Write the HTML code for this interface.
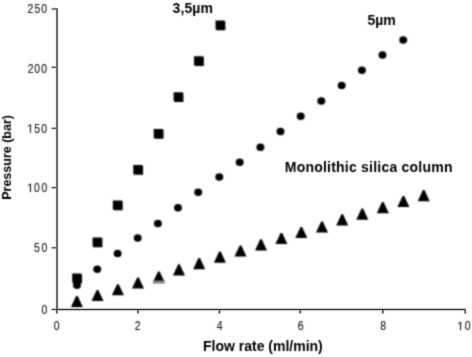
<!DOCTYPE html><html><head><meta charset="utf-8"><style>html,body{margin:0;padding:0;background:#fff;width:472px;height:357px;overflow:hidden}svg{display:block}#w{width:472px;height:357px;will-change:transform}text{font-family:"Liberation Sans",sans-serif}</style></head><body><div id="w">
<svg width="472" height="357" viewBox="0 0 472 357">
<defs><filter id="bl" x="0" y="0" width="472" height="357" filterUnits="userSpaceOnUse" color-interpolation-filters="sRGB"><feConvolveMatrix order="3" kernelMatrix="1 2 1 2 4 2 1 2 1" divisor="16" edgeMode="duplicate"/></filter><filter id="bl2" x="0" y="0" width="472" height="357" filterUnits="userSpaceOnUse" color-interpolation-filters="sRGB"><feConvolveMatrix order="3" kernelMatrix="1 4 1 4 16 4 1 4 1" divisor="36" edgeMode="duplicate"/></filter></defs>
<g filter="url(#bl)"><rect width="472" height="357" fill="#fff"/>
<g fill="#000">
<path d="M70.90 307.30 L76.10 296.10 H77.70 L82.90 307.30Z"/>
<path d="M91.50 301.10 L96.70 289.90 H98.30 L103.50 301.10Z"/>
<path d="M111.90 295.35 L117.10 284.15 H118.70 L123.90 295.35Z"/>
<path d="M132.00 288.60 L137.20 277.40 H138.80 L144.00 288.60Z"/>
<path d="M152.80 282.60 L158.00 271.40 H159.60 L164.80 282.60Z"/>
<path d="M172.95 275.40 L178.15 264.20 H179.75 L184.95 275.40Z"/>
<path d="M193.20 269.20 L198.40 258.00 H200.00 L205.20 269.20Z"/>
<path d="M213.90 262.80 L219.10 251.60 H220.70 L225.90 262.80Z"/>
<path d="M234.50 256.60 L239.70 245.40 H241.30 L246.50 256.60Z"/>
<path d="M255.00 250.40 L260.20 239.20 H261.80 L267.00 250.40Z"/>
<path d="M275.40 244.10 L280.60 232.90 H282.20 L287.40 244.10Z"/>
<path d="M295.30 238.10 L300.50 226.90 H302.10 L307.30 238.10Z"/>
<path d="M316.00 232.60 L321.20 221.40 H322.80 L328.00 232.60Z"/>
<path d="M336.20 225.50 L341.40 214.30 H343.00 L348.20 225.50Z"/>
<path d="M356.30 219.80 L361.50 208.60 H363.10 L368.30 219.80Z"/>
<path d="M376.80 213.30 L382.00 202.10 H383.60 L388.80 213.30Z"/>
<path d="M397.40 207.10 L402.60 195.90 H404.20 L409.40 207.10Z"/>
<path d="M417.70 201.20 L422.90 190.00 H424.50 L429.70 201.20Z"/>
<rect x="152.9" y="280.6" width="11.8" height="3" fill="#8a8a8a"/>
<path d="M72.20 273.40 H80.90 L82.00 274.50 V283.20 H73.30 L72.20 282.10Z"/>
<path d="M92.60 237.45 H101.30 L102.40 238.55 V247.25 H93.70 L92.60 246.15Z"/>
<path d="M112.90 200.45 H121.60 L122.70 201.55 V210.25 H114.00 L112.90 209.15Z"/>
<path d="M133.25 165.00 H141.95 L143.05 166.10 V174.80 H134.35 L133.25 173.70Z"/>
<path d="M153.75 128.95 H162.45 L163.55 130.05 V138.75 H154.85 L153.75 137.65Z"/>
<path d="M173.60 92.30 H182.30 L183.40 93.40 V102.10 H174.70 L173.60 101.00Z"/>
<path d="M194.05 56.20 H202.75 L203.85 57.30 V66.00 H195.15 L194.05 64.90Z"/>
<path d="M215.55 20.40 H224.25 L225.35 21.50 V30.20 H216.65 L215.55 29.10Z"/>
<ellipse cx="77" cy="285.2" rx="3.95" ry="3.75"/>
<ellipse cx="97.25" cy="269.2" rx="3.95" ry="3.75"/>
<ellipse cx="117.6" cy="253.6" rx="3.95" ry="3.75"/>
<ellipse cx="137.7" cy="238" rx="3.95" ry="3.75"/>
<ellipse cx="157.9" cy="223.4" rx="3.95" ry="3.75"/>
<ellipse cx="178" cy="207.8" rx="3.95" ry="3.75"/>
<ellipse cx="198.2" cy="192.2" rx="3.95" ry="3.75"/>
<ellipse cx="219.3" cy="176.9" rx="3.95" ry="3.75"/>
<ellipse cx="239.7" cy="162.3" rx="3.95" ry="3.75"/>
<ellipse cx="260.4" cy="147.2" rx="3.95" ry="3.75"/>
<ellipse cx="280.5" cy="131.6" rx="3.95" ry="3.75"/>
<ellipse cx="300.7" cy="116.2" rx="3.95" ry="3.75"/>
<ellipse cx="321.3" cy="101" rx="3.95" ry="3.75"/>
<ellipse cx="341.7" cy="85.4" rx="3.95" ry="3.75"/>
<ellipse cx="361.9" cy="70.3" rx="3.95" ry="3.75"/>
<ellipse cx="382.5" cy="54.9" rx="3.95" ry="3.75"/>
<ellipse cx="403.2" cy="40.1" rx="3.95" ry="3.75"/>
</g>
</g>
<g filter="url(#bl2)"><rect width="472" height="357" fill="#fff" fill-opacity="0"/>
<g fill="#222" stroke="#222" stroke-width="0.15" font-size="12">
<text transform="translate(44.35 313.75) scale(0.87 1)" text-anchor="middle">0</text>
<text transform="translate(37.00 252.10) scale(0.87 1)" text-anchor="middle">5</text>
<text transform="translate(44.30 252.10) scale(0.87 1)" text-anchor="middle">0</text>
<path d="M29.92 192.00 L30.98 192.00 L30.98 183.74 L30.01 183.74 L28.06 185.09 L28.06 186.08 L29.92 184.75Z"/>
<text transform="translate(36.90 192.00) scale(0.87 1)" text-anchor="middle">0</text>
<text transform="translate(44.30 192.00) scale(0.87 1)" text-anchor="middle">0</text>
<path d="M29.92 132.60 L30.98 132.60 L30.98 124.34 L30.01 124.34 L28.06 125.69 L28.06 126.68 L29.92 125.35Z"/>
<text transform="translate(37.10 132.60) scale(0.87 1)" text-anchor="middle">5</text>
<text transform="translate(44.20 132.60) scale(0.87 1)" text-anchor="middle">0</text>
<text transform="translate(30.55 72.55) scale(0.87 1)" text-anchor="middle">2</text>
<text transform="translate(37.10 72.55) scale(0.87 1)" text-anchor="middle">0</text>
<text transform="translate(44.20 72.55) scale(0.87 1)" text-anchor="middle">0</text>
<text transform="translate(30.45 13.25) scale(0.87 1)" text-anchor="middle">2</text>
<text transform="translate(37.30 13.25) scale(0.87 1)" text-anchor="middle">5</text>
<text transform="translate(44.20 13.25) scale(0.87 1)" text-anchor="middle">0</text>
<text transform="translate(56.60 330.20) scale(0.87 1)" text-anchor="middle">0</text>
<text transform="translate(137.55 330.20) scale(0.87 1)" text-anchor="middle">2</text>
<text transform="translate(219.60 330.20) scale(0.87 1)" text-anchor="middle">4</text>
<text transform="translate(300.60 330.20) scale(0.87 1)" text-anchor="middle">6</text>
<text transform="translate(383.20 330.20) scale(0.87 1)" text-anchor="middle">8</text>
<path d="M460.07 330.20 L461.13 330.20 L461.13 321.94 L460.16 321.94 L458.21 323.29 L458.21 324.28 L460.07 322.95Z"/>
<text transform="translate(467.70 330.20) scale(0.87 1)" text-anchor="middle">0</text>
</g>
<g fill="#000" font-size="14" font-weight="bold">
<text x="203" y="350.6">Flow rate (ml/min)</text>
<text x="172.6" y="13.2" letter-spacing="0.1">3,5µm</text>
<text x="367.4" y="25">5µm</text>
<text x="284.8" y="172" letter-spacing="0.22">Monolithic silica column</text>
<text transform="translate(11.2 199.8) rotate(-90)" font-size="12.5">Pressure (bar)</text>
</g>
</g>
<g fill="none">
<path d="M57 8.35 V309.5 H465.7" stroke="#e4e4e4" stroke-width="3.4"/>
<path d="M56 309.5 H465.7" stroke="#c4c4c4" stroke-width="3"/>
<path d="M51.6 309.45 H56" stroke="#cfcfcf" stroke-width="3"/>
<path d="M51.6 247.8 H56" stroke="#cfcfcf" stroke-width="3"/>
<path d="M51.6 187.7 H56" stroke="#cfcfcf" stroke-width="3"/>
<path d="M51.6 128.3 H56" stroke="#cfcfcf" stroke-width="3"/>
<path d="M51.6 67.25 H56" stroke="#cfcfcf" stroke-width="3"/>
<path d="M51.6 8.95 H56" stroke="#cfcfcf" stroke-width="3"/>
<path d="M56.8 311 V313.4" stroke="#d0d0d0" stroke-width="3"/>
<path d="M138.0 311 V313.4" stroke="#d0d0d0" stroke-width="3"/>
<path d="M219.45 311 V313.4" stroke="#d0d0d0" stroke-width="3"/>
<path d="M300.25 311 V313.4" stroke="#d0d0d0" stroke-width="3"/>
<path d="M382.85 311 V313.4" stroke="#d0d0d0" stroke-width="3"/>
<path d="M465.2 311 V313.4" stroke="#d0d0d0" stroke-width="3"/>
<path d="M57 8.35 V309.5" stroke="#5a5a5a" stroke-width="1.7"/>
<path d="M56 309.5 H465.7" stroke="#3c3c3c" stroke-width="1.1"/>
<path d="M51.6 309.45 H56.5" stroke="#4a4a4a" stroke-width="1.1"/>
<path d="M51.6 247.8 H56.5" stroke="#4a4a4a" stroke-width="1.1"/>
<path d="M51.6 187.7 H56.5" stroke="#4a4a4a" stroke-width="1.1"/>
<path d="M51.6 128.3 H56.5" stroke="#4a4a4a" stroke-width="1.1"/>
<path d="M51.6 67.25 H56.5" stroke="#4a4a4a" stroke-width="1.1"/>
<path d="M51.6 8.95 H56.5" stroke="#4a4a4a" stroke-width="1.1"/>
<path d="M56.8 310 V313.4" stroke="#4a4a4a" stroke-width="1.4"/>
<path d="M138.0 310 V313.4" stroke="#4a4a4a" stroke-width="1.4"/>
<path d="M219.45 310 V313.4" stroke="#4a4a4a" stroke-width="1.4"/>
<path d="M300.25 310 V313.4" stroke="#4a4a4a" stroke-width="1.4"/>
<path d="M382.85 310 V313.4" stroke="#4a4a4a" stroke-width="1.4"/>
<path d="M465.2 310 V313.4" stroke="#4a4a4a" stroke-width="1.4"/>
</g>
</svg></div></body></html>
